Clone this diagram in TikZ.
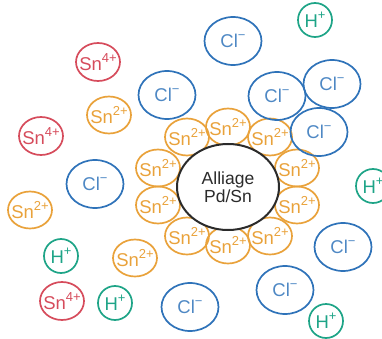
\documentclass[tikz,border=0pt]{standalone}
\usepackage{fontspec}
\setmainfont{Liberation Sans}
\usepackage{xcolor}
\usetikzlibrary{positioning,shapes.geometric}

\definecolor{snorange}{HTML}{E9A23B}
\definecolor{clblue}{HTML}{2F73B9}
\definecolor{snred}{HTML}{D64C5C}
\definecolor{hgreen}{HTML}{1EA487}
\definecolor{alloygray}{HTML}{2B2B2B}

\newcommand{\ionlabel}[2]{\makebox[0pt]{#1\raisebox{0.45em}{\fontsize{13}{13}\selectfont #2}}}

\begin{document}
\begin{tikzpicture}[x=1pt, y=-1pt,
		ion/.style={ellipse, draw, line width=1.7pt, inner sep=0pt, font=\fontsize{18.5}{19}\selectfont},
		sntwo/.style={ion, draw=snorange, text=snorange, minimum width=44pt, minimum height=37pt},
		snfour/.style={ion, draw=snred, text=snred, minimum width=44pt, minimum height=38pt},
		chlor/.style={ion, draw=clblue, text=clblue!85!white, minimum width=57pt, minimum height=48pt},
		hplus/.style={ion, draw=hgreen, text=hgreen, minimum width=34pt, minimum height=34pt},
		alloy/.style={ellipse, draw=alloygray, fill=white, line width=2pt, inner sep=0pt, minimum width=102pt, minimum height=86pt, align=center, text=alloygray, font=\fontsize{17.5}{18}\selectfont}]
			\useasboundingbox (0,0) rectangle (382,339);
			% ring of Sn2+ round the alloy
			\node [sntwo] (ring1) at (228,127) {\ionlabel{Sn}{2+}};
			\node [sntwo] (ring2) at (187,137) {\ionlabel{Sn}{2+}};
			\node [sntwo] (ring3) at (270,137) {\ionlabel{Sn}{2+}};
			\node [sntwo] (ring4) at (158,168) {\ionlabel{Sn}{2+}};
			\node [sntwo] (ring5) at (297,168) {\ionlabel{Sn}{2+}};
			\node [sntwo] (ring6) at (158,205) {\ionlabel{Sn}{2+}};
			\node [sntwo] (ring7) at (297,205) {\ionlabel{Sn}{2+}};
			\node [sntwo] (ring8) at (187,236) {\ionlabel{Sn}{2+}};
			\node [sntwo] (ring9) at (270,236) {\ionlabel{Sn}{2+}};
			\node [sntwo] (ring10) at (228,245) {\ionlabel{Sn}{2+}};
			\node [alloy] (alloy) at (228,187) {Alliage\\Pd/Sn};
			% free ions
			\node [snfour] (snfour1) at (98,62) {\ionlabel{Sn}{4+}};
			\node [snfour] (snfour2) at (41,136) {\ionlabel{Sn}{4+}};
			\node [snfour] (snfour3) at (62,301) {\ionlabel{Sn}{4+}};
			\node [sntwo] (sntwo1) at (109,115) {\ionlabel{Sn}{2+}};
			\node [sntwo] (sntwo2) at (30,210) {\ionlabel{Sn}{2+}};
			\node [sntwo] (sntwo3) at (135,258) {\ionlabel{Sn}{2+}};
			\node [chlor] (cl1) at (167,95) {\ionlabel{Cl}{\char"2212}};
			\node [chlor] (cl2) at (233,41) {\ionlabel{Cl}{\char"2212}};
			\node [chlor] (cl3) at (277,96) {\ionlabel{Cl}{\char"2212}};
			\node [chlor] (cl4) at (332,84) {\ionlabel{Cl}{\char"2212}};
			\node [chlor] (cl5) at (319,132) {\ionlabel{Cl}{\char"2212}};
			\node [chlor] (cl6) at (95,184) {\ionlabel{Cl}{\char"2212}};
			\node [chlor] (cl7) at (343,247) {\ionlabel{Cl}{\char"2212}};
			\node [chlor] (cl8) at (285,290) {\ionlabel{Cl}{\char"2212}};
			\node [chlor] (cl9) at (190,307) {\ionlabel{Cl}{\char"2212}};
			\node [hplus] (h1) at (315,20) {\ionlabel{H}{+}};
			\node [hplus] (h2) at (373,186) {\ionlabel{H}{+}};
			\node [hplus] (h3) at (61,256) {\ionlabel{H}{+}};
			\node [hplus] (h4) at (115,303) {\ionlabel{H}{+}};
			\node [hplus] (h5) at (326,321) {\ionlabel{H}{+}};
		\end{tikzpicture}
\end{document}
